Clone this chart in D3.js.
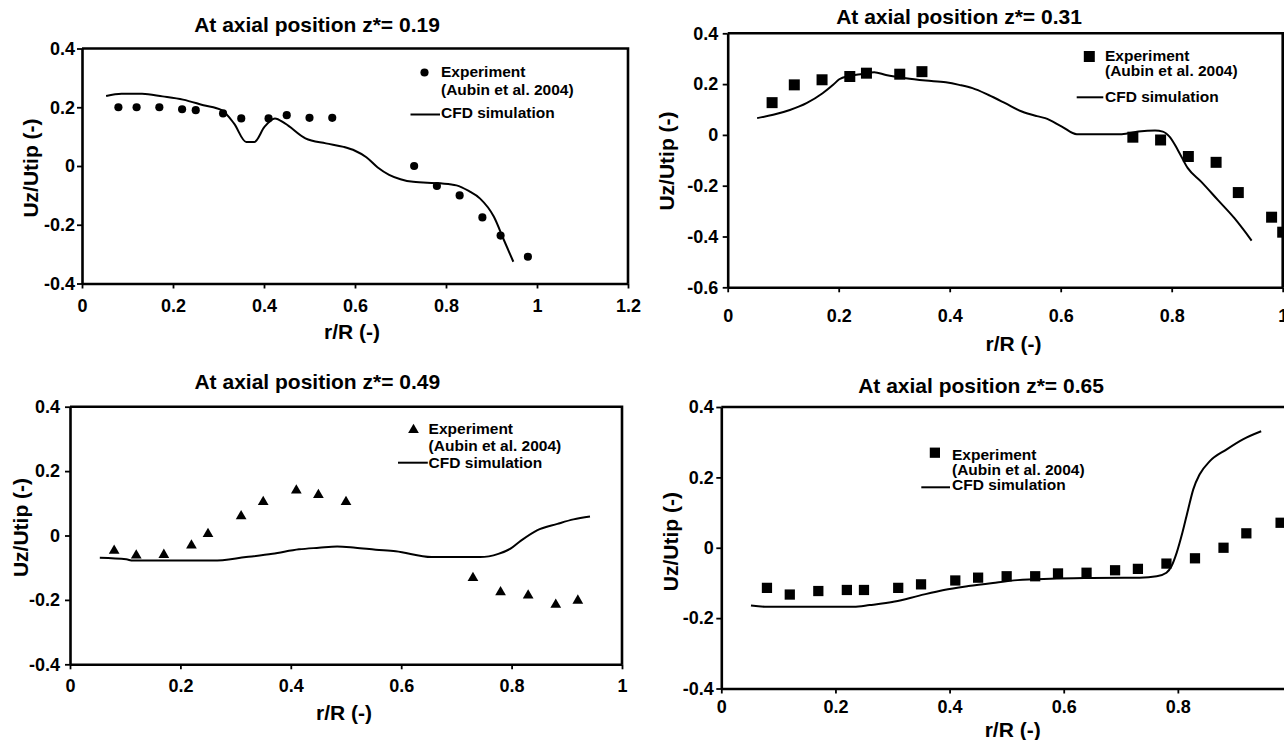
<!DOCTYPE html>
<html>
<head>
<meta charset="utf-8">
<script src="https://cdnjs.cloudflare.com/ajax/libs/d3/7.8.5/d3.min.js"></script>
<style>
    body { margin: 0; background: #fff; }
    svg { display: block; }
    text { font-family: "Liberation Sans", Arial, Helvetica, sans-serif; font-weight: bold; fill: #000; }
</style>
</head>
<body>
<svg width="1284" height="740"></svg>
<script>
// z* = 0.19
var r1Exp  = [0.08, 0.12, 0.17, 0.22, 0.25, 0.31, 0.35, 0.41, 0.45, 0.50, 0.55, 0.73, 0.78, 0.83, 0.88, 0.92, 0.98];
var uz1Exp = [0.200, 0.200, 0.200, 0.193, 0.190, 0.179, 0.162, 0.162, 0.173, 0.164, 0.164, 0.000, -0.068, -0.100, -0.175, -0.237, -0.309];
var r1Cfd  = [0.053, 0.087, 0.132, 0.177, 0.222, 0.267, 0.307, 0.334, 0.361, 0.379, 0.401, 0.424, 0.446, 0.491, 0.536, 0.575, 0.600, 0.625, 0.650, 0.675, 0.700, 0.728, 0.788, 0.823, 0.850, 0.875, 0.905, 0.927, 0.948];
var uz1Cfd = [0.238, 0.246, 0.246, 0.237, 0.226, 0.207, 0.190, 0.145, 0.082, 0.082, 0.133, 0.162, 0.145, 0.094, 0.077, 0.065, 0.052, 0.030, -0.005, -0.030, -0.045, -0.054, -0.059, -0.066, -0.085, -0.111, -0.172, -0.251, -0.326];

// z* = 0.31
var r2Exp  = [0.08, 0.12, 0.17, 0.22, 0.25, 0.31, 0.35, 0.73, 0.78, 0.83, 0.88, 0.92, 0.98, 1.00];
var uz2Exp = [0.127, 0.197, 0.217, 0.230, 0.243, 0.239, 0.249, -0.009, -0.020, -0.085, -0.108, -0.227, -0.324, -0.383];
var r2Cfd  = [0.053, 0.082, 0.112, 0.142, 0.171, 0.190, 0.201, 0.219, 0.243, 0.264, 0.285, 0.321, 0.357, 0.393, 0.417, 0.441, 0.470, 0.500, 0.530, 0.557, 0.572, 0.602, 0.629, 0.668, 0.710, 0.740, 0.770, 0.784, 0.796, 0.811, 0.829, 0.853, 0.883, 0.913, 0.944];
var uz2Cfd = [0.066, 0.079, 0.098, 0.125, 0.164, 0.197, 0.219, 0.232, 0.240, 0.247, 0.236, 0.223, 0.214, 0.207, 0.197, 0.184, 0.157, 0.125, 0.092, 0.074, 0.066, 0.033, 0.003, 0.003, 0.003, 0.013, 0.017, 0.013, -0.007, -0.059, -0.131, -0.184, -0.256, -0.328, -0.416];

// z* = 0.49
var r3Exp  = [0.08, 0.12, 0.17, 0.22, 0.25, 0.31, 0.35, 0.41, 0.45, 0.50, 0.73, 0.78, 0.83, 0.88, 0.92];
var uz3Exp = [-0.047, -0.062, -0.060, -0.031, 0.005, 0.060, 0.104, 0.140, 0.126, 0.104, -0.132, -0.176, -0.186, -0.215, -0.202];
var r3Cfd  = [0.054, 0.102, 0.114, 0.175, 0.259, 0.319, 0.367, 0.415, 0.451, 0.484, 0.517, 0.554, 0.590, 0.655, 0.684, 0.743, 0.776, 0.798, 0.817, 0.846, 0.883, 0.912, 0.942];
var uz3Cfd = [-0.069, -0.074, -0.078, -0.078, -0.078, -0.067, -0.057, -0.043, -0.038, -0.034, -0.038, -0.044, -0.049, -0.067, -0.067, -0.067, -0.057, -0.041, -0.016, 0.016, 0.036, 0.050, 0.059];

// z* = 0.65
var r4Exp  = [0.08, 0.12, 0.17, 0.22, 0.25, 0.31, 0.35, 0.41, 0.45, 0.50, 0.55, 0.59, 0.64, 0.69, 0.73, 0.78, 0.83, 0.88, 0.92, 0.98];
var uz4Exp = [-0.114, -0.133, -0.123, -0.120, -0.120, -0.114, -0.104, -0.093, -0.085, -0.081, -0.081, -0.073, -0.071, -0.064, -0.060, -0.045, -0.030, 0.000, 0.041, 0.071];
var r4Cfd  = [0.052, 0.081, 0.145, 0.232, 0.260, 0.304, 0.347, 0.390, 0.433, 0.476, 0.519, 0.577, 0.649, 0.733, 0.763, 0.780, 0.789, 0.798, 0.808, 0.818, 0.827, 0.838, 0.856, 0.885, 0.914, 0.946];
var uz4Cfd = [-0.164, -0.168, -0.168, -0.168, -0.163, -0.153, -0.136, -0.120, -0.109, -0.100, -0.092, -0.088, -0.086, -0.085, -0.081, -0.071, -0.052, -0.014, 0.043, 0.109, 0.166, 0.208, 0.246, 0.279, 0.308, 0.331];

var titles = ["At axial position z*= 0.19", "At axial position z*= 0.31", "At axial position z*= 0.49", "At axial position z*= 0.65"];
var xTicksA = [0, 0.2, 0.4, 0.6, 0.8, 1, 1.2];
var xTicksB = [0, 0.2, 0.4, 0.6, 0.8, 1];
var yTicksA = [-0.4, -0.2, 0, 0.2, 0.4];
var yTicksB = [-0.6, -0.4, -0.2, 0, 0.2, 0.4];
var xLabel = "r/R (-)";
var yLabel = "Uz/Utip (-)";
var legExp = ["Experiment", "(Aubin et al. 2004)"];
var legCfd = "CFD simulation";

var svg = d3.select("svg");

// layout of the four panels
var panels = [
    {title: titles[0], rx: r1Exp, ux: uz1Exp, rc: r1Cfd, uc: uz1Cfd, xDom: [0, 1.2], yDom: [-0.4, 0.4], xT: xTicksA, yT: yTicksA,
     left: 82, right: 628, top: 48.5, bottom: 283.5, xPad: 10.5, yPad: 2,
     tx: 317, ty: 32, xl: [352, 338.5], yl: [30.6, 168],
     sym: d3.symbolCircle, size: 52,
     leg: {mx: 424.5, my: 72.5, tx: 441, b: [77.3, 95, 118.3], lx: [410.5, 440], ly: 114.5}},
    {title: titles[1], rx: r2Exp, ux: uz2Exp, rc: r2Cfd, uc: uz2Cfd, xDom: [0, 1], yDom: [-0.6, 0.4], xT: xTicksB, yT: yTicksB,
     left: 727.7, right: 1282.7, top: 33.3, bottom: 287.3, xPad: 16.5, yPad: 4.5,
     tx: 959, ty: 23.5, xl: [1013.5, 351], yl: [666.7, 161],
     sym: d3.symbolSquare, size: 121,
     leg: {mx: 1089.3, my: 56.5, tx: 1105, b: [61, 76, 101.7], lx: [1076.7, 1103.3], ly: 97.3}},
    {title: titles[2], rx: r3Exp, ux: uz3Exp, rc: r3Cfd, uc: uz3Cfd, xDom: [0, 1], yDom: [-0.4, 0.4], xT: xTicksB, yT: yTicksA,
     left: 70, right: 622, top: 406.7, bottom: 664.3, xPad: 9.5, yPad: 5,
     tx: 317.3, ty: 389.3, xl: [344, 720], yl: [20.5, 527.5],
     sym: d3.symbolTriangle, size: 50,
     leg: {mx: 413.5, my: 430, tx: 428.6, b: [434, 450.7, 468.3], lx: [398, 427.8], ly: 462.7}},
    {title: titles[3], rx: r4Exp, ux: uz4Exp, rc: r4Cfd, uc: uz4Cfd, xDom: [0, 1], yDom: [-0.4, 0.4], xT: xTicksB, yT: yTicksA,
     left: 721.3, right: 1292, top: 407, bottom: 688.5, xPad: 7, yPad: 2.5,
     tx: 981, ty: 393.3, xl: [1012.7, 737], yl: [670.8, 541.7],
     sym: d3.symbolSquare, size: 105,
     leg: {mx: 934.9, my: 452.7, tx: 952, b: [460, 475, 490], lx: [921.3, 950], ly: 487.3}}
];

function fmt(d) { return String(+d.toFixed(1)); }

function drawPanel(p) {
    var x = d3.scaleLinear().domain(p.xDom).range([p.left, p.right]);
    var y = d3.scaleLinear().domain(p.yDom).range([p.bottom, p.top]);
    var g = svg.append("g");

    // top and right frame
    g.append("path")
        .attr("d", "M" + p.left + "," + p.top + "H" + p.right + "V" + p.bottom)
        .attr("fill", "none").attr("stroke", "#000").attr("stroke-width", 2.6);

    var ax = g.append("g")
        .attr("transform", "translate(0," + p.bottom + ")")
        .call(d3.axisBottom(x).tickValues(p.xT).tickFormat(fmt).tickSize(5).tickSizeOuter(0).tickPadding(p.xPad));
    var ay = g.append("g")
        .attr("transform", "translate(" + p.left + ",0)")
        .call(d3.axisLeft(y).tickValues(p.yT).tickFormat(fmt).tickSize(5).tickSizeOuter(0).tickPadding(p.yPad));

    [ax, ay].forEach(function(a) {
        a.attr("font-family", null).attr("font-size", null);
        a.select(".domain").attr("stroke-width", 2.6);
        a.selectAll(".tick line").attr("stroke-width", 1.8);
        a.selectAll(".tick text").style("font-size", "18px").attr("fill", "#000");
    });

    // CFD line
    var line = d3.line()
        .x(function(d) { return x(d[0]); })
        .y(function(d) { return y(d[1]); })
        .curve(d3.curveMonotoneX);
    g.append("path")
        .datum(d3.zip(p.rc, p.uc))
        .attr("d", line)
        .attr("fill", "none").attr("stroke", "#000").attr("stroke-width", 2);

    // experiment markers
    var sym = d3.symbol().type(p.sym).size(p.size);
    g.selectAll(".pt")
        .data(d3.zip(p.rx, p.ux))
        .enter().append("path")
        .attr("class", "pt")
        .attr("d", sym)
        .attr("transform", function(d) { return "translate(" + x(d[0]) + "," + y(d[1]) + ")"; })
        .attr("fill", "#000");

    // titles
    g.append("text").attr("x", p.tx).attr("y", p.ty).attr("text-anchor", "middle")
        .style("font-size", "21px").text(p.title);
    g.append("text").attr("x", p.xl[0]).attr("y", p.xl[1]).attr("text-anchor", "middle")
        .style("font-size", "21px").text(xLabel);
    g.append("text").attr("transform", "translate(" + p.yl[0] + "," + p.yl[1] + ") rotate(-90)")
        .attr("dy", "0.36em").attr("text-anchor", "middle")
        .style("font-size", "21px").text(yLabel);

    // legend
    var L = p.leg;
    g.append("path").attr("d", sym).attr("fill", "#000")
        .attr("transform", "translate(" + L.mx + "," + L.my + ")");
    g.append("text").attr("x", L.tx).attr("y", L.b[0]).style("font-size", "15.5px").text(legExp[0]);
    g.append("text").attr("x", L.tx).attr("y", L.b[1]).style("font-size", "15.5px").text(legExp[1]);
    g.append("line").attr("x1", L.lx[0]).attr("x2", L.lx[1]).attr("y1", L.ly).attr("y2", L.ly)
        .attr("stroke", "#000").attr("stroke-width", 2);
    g.append("text").attr("x", L.tx).attr("y", L.b[2]).style("font-size", "15.5px").text(legCfd);
}

panels.forEach(drawPanel);
</script>
</body>
</html>
